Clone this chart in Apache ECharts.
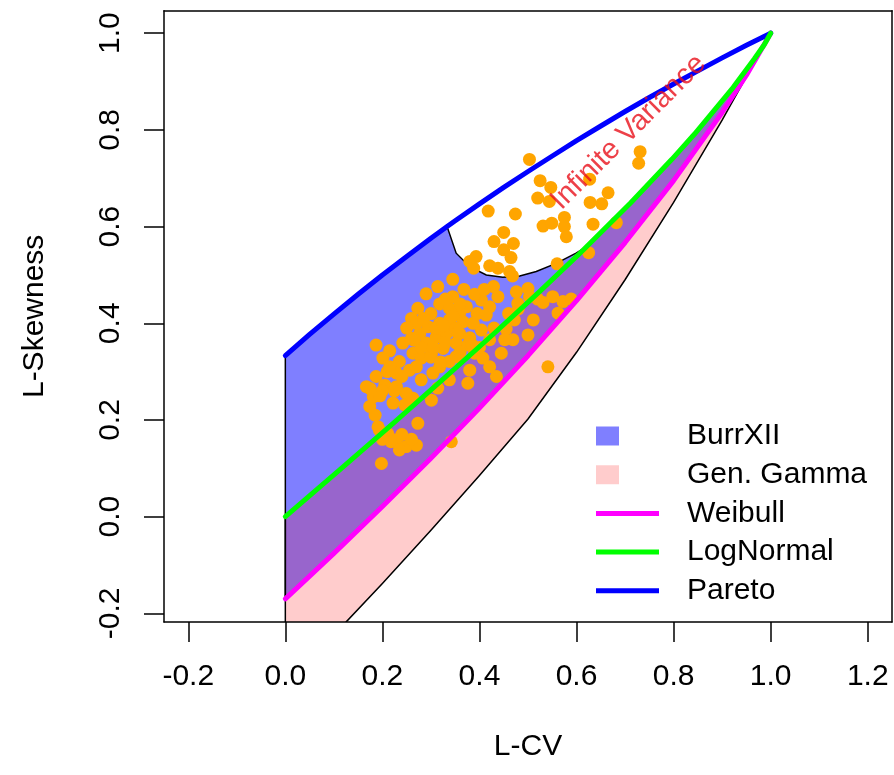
<!DOCTYPE html>
<html><head><meta charset="utf-8">
<script src="https://cdn.jsdelivr.net/npm/echarts@6/dist/echarts.min.js"></script>
<style>html,body{margin:0;padding:0;background:#fff}#c{width:894px;height:775px}</style>
</head><body><div id="c"></div>
<script>
// ---- tick labels ----
const xTicks = [-0.2, 0.0, 0.2, 0.4, 0.6, 0.8, 1.0, 1.2];
const yTicks = [-0.2, 0.0, 0.2, 0.4, 0.6, 0.8, 1.0];

// ---- theoretical curves, [L-CV, L-Skewness] ----
const paretoCurve = [[0,0.333],[0.05,0.377],[0.1,0.419],[0.15,0.460],[0.2,0.500],[0.25,0.538],[0.3,0.576],[0.3333,0.600],[0.35,0.612],[0.4,0.647],[0.45,0.681],[0.5,0.714],[0.55,0.746],[0.6,0.778],[0.65,0.808],[0.7,0.838],[0.75,0.867],[0.8,0.895],[0.85,0.922],[0.9,0.949],[0.95,0.975],[1,1]];
const lognormalCurve = [[0,0],[0.1125,0.0975],[0.2227,0.1937],[0.3286,0.2874],[0.4284,0.3773],[0.5205,0.4625],[0.6039,0.5419],[0.7112,0.6488],[0.7969,0.7396],[0.8427,0.7909],[0.9229,0.888],[0.9661,0.9466],[0.9867,0.976],[1,1]];
const weibullCurve = [[0,-0.170],[0.05,-0.123],[0.1,-0.076],[0.2,0.021],[0.3,0.121],[0.4,0.225],[0.5,0.333],[0.6,0.447],[0.7,0.567],[0.8,0.695],[0.9,0.836],[0.95,0.913],[1,1]];
// boundary of the infinite-variance zone inside the BurrXII region
const infVarBoundary = [[0.3333,0.600],[0.352,0.545],[0.380,0.517],[0.414,0.500],[0.448,0.495],[0.483,0.498],[0.517,0.507],[0.558,0.524],[0.599,0.545],[0.62,0.558]];
// lower boundary of the Generalized Gamma region (from (1,1) downward)
const genGammaLower = [[1,1],[0.9,0.820],[0.8,0.650],[0.7,0.490],[0.6,0.340],[0.5,0.202],[0.4,0.085],[0.3,-0.028],[0.2,-0.138],[0.126,-0.217],[0.08,-0.27],[0,-0.36]];

// ---- sample points ----
const sampleLCV = [0.503,0.731,0.728,0.525,0.547,0.520,0.544,0.627,0.665,0.628,0.652,0.418,0.474,0.531,0.549,0.575,0.575,0.579,0.634,0.682,0.450,0.430,0.470,0.450,0.465,0.393,0.380,0.388,0.421,0.438,0.462,0.468,0.560,0.625,0.345,0.314,0.368,0.290,0.345,0.318,0.273,0.260,0.338,0.359,0.373,0.404,0.429,0.438,0.421,0.414,0.476,0.500,0.479,0.503,0.531,0.551,0.572,0.589,0.562,0.511,0.472,0.455,0.500,0.469,0.452,0.421,0.404,0.387,0.366,0.338,0.318,0.294,0.277,0.260,0.242,0.187,0.215,0.201,0.235,0.263,0.290,0.311,0.332,0.359,0.352,0.325,0.301,0.280,0.256,0.229,0.187,0.167,0.181,0.174,0.205,0.229,0.249,0.222,0.246,0.263,0.280,0.304,0.318,0.338,0.352,0.376,0.390,0.407,0.445,0.421,0.435,0.380,0.376,0.338,0.314,0.301,0.273,0.191,0.211,0.229,0.249,0.270,0.198,0.342,0.541,0.194,0.218,0.235,0.200,0.240,0.260,0.185,0.300,0.330,0.360,0.390,0.410,0.270,0.250,0.310,0.350,0.380,0.330,0.280,0.270,0.240,0.210,0.200,0.300,0.320,0.360,0.400,0.430,0.480,0.520,0.460,0.285,0.305,0.265,0.345,0.395,0.215,0.195,0.225,0.175,0.355,0.325,0.385];
const sampleLSkew = [0.739,0.755,0.731,0.695,0.681,0.659,0.652,0.698,0.670,0.650,0.647,0.632,0.626,0.601,0.607,0.619,0.600,0.579,0.605,0.608,0.588,0.569,0.565,0.552,0.536,0.538,0.528,0.514,0.519,0.514,0.507,0.498,0.523,0.546,0.491,0.476,0.470,0.461,0.455,0.440,0.431,0.410,0.431,0.421,0.434,0.448,0.476,0.455,0.434,0.417,0.465,0.472,0.441,0.455,0.443,0.455,0.445,0.450,0.421,0.407,0.407,0.388,0.376,0.366,0.366,0.366,0.386,0.400,0.403,0.407,0.400,0.393,0.379,0.369,0.359,0.355,0.343,0.328,0.321,0.338,0.359,0.372,0.379,0.379,0.359,0.348,0.338,0.328,0.303,0.297,0.290,0.269,0.248,0.228,0.272,0.269,0.255,0.235,0.231,0.245,0.283,0.297,0.310,0.321,0.331,0.355,0.338,0.328,0.338,0.310,0.290,0.303,0.276,0.283,0.266,0.241,0.193,0.186,0.172,0.159,0.145,0.148,0.110,0.155,0.310,0.179,0.155,0.138,0.160,0.170,0.160,0.210,0.420,0.450,0.440,0.460,0.470,0.400,0.390,0.390,0.390,0.370,0.360,0.350,0.310,0.290,0.300,0.260,0.330,0.320,0.340,0.350,0.390,0.430,0.450,0.420,0.410,0.350,0.365,0.415,0.420,0.310,0.250,0.260,0.265,0.380,0.395,0.355];

// ---- polygons built from the curves ----
const burrPolygon = []
  .concat(paretoCurve.filter(p => p[0] < 0.3333))
  .concat(infVarBoundary)
  .concat(lognormalCurve.filter(p => p[0] > 0.62))
  .concat(weibullCurve.slice().reverse());
const genGammaPolygon = [].concat(lognormalCurve).concat(genGammaLower);

const FONT = "'Liberation Sans', Arial, Helvetica, sans-serif";
const FS = 30;

function polySeries(name, pts, fill) {
  return {
    type: 'custom', name: name, coordinateSystem: 'cartesian2d',
    data: pts, encode: { x: 0, y: 1 },
    itemStyle: { color: fill }, silent: true, z: 1,
    renderItem: function (params, api) {
      if (params.dataIndex !== 0) return null;
      const cs = params.coordSys;
      return {
        type: 'polygon',
        shape: { points: pts.map(p => api.coord(p)), smooth: 0 },
        style: { fill: fill, stroke: '#000', lineWidth: 1.5 },
        clipPath: { type: 'rect', shape: { x: cs.x, y: cs.y, width: cs.width, height: cs.height } }
      };
    }
  };
}
function lineSeries(name, pts, color, z) {
  return { type: 'line', name: name, data: pts, showSymbol: false, symbol: 'none',
    lineStyle: { color: color, width: 5, cap: 'round', join: 'round' }, itemStyle: { color: color },
    z: z, silent: true, animation: false };
}

const sq = 'path://M0,0h23v19h-23z M86,0 L86,19 L86,0z';
const ln = 'path://M0,7h63v5h-63z M86,0 L86,19 L86,0z';

const chart = echarts.init(document.getElementById('c'), null, { renderer: 'canvas' });
chart.setOption({
  animation: false,
  backgroundColor: '#fff',
  textStyle: { fontFamily: FONT },
  grid: { left: 164, right: 2, top: 10.7, bottom: 153, show: false },
  xAxis: [{
    type: 'value', min: -0.25, max: 1.25, position: 'bottom', z: 10,
    axisLine: { show: true, onZero: false, lineStyle: { color: '#000', width: 1.5 } },
    axisTick: { show: true, length: 20, lineStyle: { color: '#000', width: 1.5 }, customValues: xTicks },
    axisLabel: { show: true, customValues: xTicks, margin: 40, fontSize: FS, color: '#000', fontFamily: FONT,
      formatter: v => v.toFixed(1) },
    splitLine: { show: false },
    name: 'L-CV', nameLocation: 'middle', nameGap: 110,
    nameTextStyle: { fontSize: FS, color: '#000', fontFamily: FONT }
  }, {
    type: 'value', min: -0.25, max: 1.25, position: 'top', z: 10,
    axisLine: { show: true, onZero: false, lineStyle: { color: '#000', width: 1.5 } },
    axisTick: { show: false }, axisLabel: { show: false }, splitLine: { show: false }
  }],
  yAxis: [{
    type: 'value', min: -0.2178, max: 1.0465, position: 'left', z: 10,
    axisLine: { show: true, onZero: false, lineStyle: { color: '#000', width: 1.5 } },
    axisTick: { show: true, length: 20, lineStyle: { color: '#000', width: 1.5 }, customValues: yTicks },
    axisLabel: { show: true, customValues: yTicks, rotate: 90, margin: 38, fontSize: FS, color: '#000', fontFamily: FONT,
      formatter: v => v.toFixed(1) },
    splitLine: { show: false },
    name: 'L-Skewness', nameLocation: 'middle', nameGap: 114, nameRotate: 90,
    nameTextStyle: { fontSize: FS, color: '#000', fontFamily: FONT }
  }, {
    type: 'value', min: -0.2178, max: 1.0465, position: 'right', z: 10,
    axisLine: { show: true, onZero: false, lineStyle: { color: '#000', width: 1.5 } },
    axisTick: { show: false }, axisLabel: { show: false }, splitLine: { show: false }
  }],
  legend: {
    orient: 'vertical', left: 596, top: 421, padding: 0, itemGap: 8.7,
    itemWidth: 86, itemHeight: 19, selectedMode: false,
    textStyle: { fontSize: FS, color: '#000', fontFamily: FONT, lineHeight: 30 },
    data: [
      { name: 'BurrXII', icon: sq, itemStyle: { color: 'rgba(0,0,255,0.5)' } },
      { name: 'Gen. Gamma', icon: sq, itemStyle: { color: 'rgba(255,0,0,0.2)' } },
      { name: 'Weibull', icon: ln, itemStyle: { color: '#ff00ff' } },
      { name: 'LogNormal', icon: ln, itemStyle: { color: '#00ff00' } },
      { name: 'Pareto', icon: ln, itemStyle: { color: '#0000ff' } }
    ]
  },
  series: [
    polySeries('BurrXII', burrPolygon, 'rgba(0,0,255,0.5)'),
    polySeries('Gen. Gamma', genGammaPolygon, 'rgba(255,0,0,0.2)'),
    { type: 'scatter', name: 'samples', data: sampleLCV.map((x, i) => [x, sampleLSkew[i]]),
      symbol: 'circle', symbolSize: 13, itemStyle: { color: '#ffa500', opacity: 1 }, z: 3, silent: true },
    lineSeries('Weibull', weibullCurve, '#ff00ff', 4),
    lineSeries('Pareto', paretoCurve, '#0000ff', 5),
    lineSeries('LogNormal', lognormalCurve, '#00ff00', 6),
    { type: 'scatter', name: 'note', data: [[0.707, 0.795]], symbolSize: 0, z: 7, silent: true,
      label: { show: true, position: 'inside', formatter: 'Infinite Variance', rotate: 45,
        fontSize: 29, color: '#e8101a', fontFamily: FONT } }
  ]
});
</script></body></html>
